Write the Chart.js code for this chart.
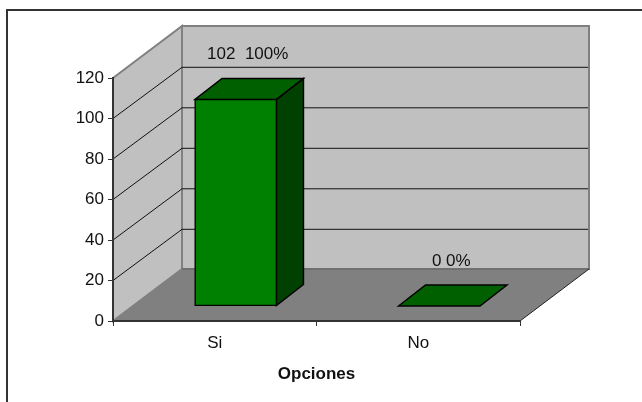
<!DOCTYPE html>
<html>
<head>
<meta charset="utf-8">
<title>Opciones</title>
<style>
  html, body { margin: 0; padding: 0; background: #fff; }
  canvas { display: block; }
</style>
<script src="https://cdn.jsdelivr.net/npm/chart.js@4"></script>
</head>
<body>
<canvas id="chart" width="642" height="402"></canvas>
<script>
// Survey answers
const categories = ['Si', 'No'];
const counts = [102, 0];
const percents = ['100%', '0%'];
const separators = ['  ', ' '];
const yTicks = [0, 20, 40, 60, 80, 100, 120];

// Perspective of the box: wall depth, and how far bars stand inside it
const WALL_DX = 69, WALL_DY = -52, GRID_DY = -51.2;
const BAR_SHIFT_X = 21, BAR_SHIFT_Y = -15;
const BAR_DX = 27, BAR_DY = -21;

const FONT = '"Liberation Sans", Arial, sans-serif';
const INK = '#111';

function poly(ctx, pts, fill, stroke, lw) {
  ctx.beginPath();
  pts.forEach((p, i) => i ? ctx.lineTo(p[0], p[1]) : ctx.moveTo(p[0], p[1]));
  ctx.closePath();
  if (fill) { ctx.fillStyle = fill; ctx.fill(); }
  if (stroke) { ctx.strokeStyle = stroke; ctx.lineWidth = lw; ctx.lineJoin = 'miter'; ctx.stroke(); }
}

const box3d = {
  id: 'box3d',
  beforeDraw(chart) {
    const { ctx, chartArea: a, scales: { y } } = chart;
    const top = y.getPixelForValue(yTicks[yTicks.length - 1]);
    const bot = y.getPixelForValue(0);
    ctx.save();
    ctx.fillStyle = '#fff';
    ctx.fillRect(0, 0, chart.width, chart.height);

    // outer frame, open to the right and bottom edges of the page
    ctx.strokeStyle = '#333';
    ctx.lineWidth = 2;
    ctx.beginPath();
    ctx.moveTo(7, chart.height);
    ctx.lineTo(7, 10);
    ctx.lineTo(chart.width, 10);
    ctx.stroke();

    // side wall and back wall
    poly(ctx, [[a.left, top], [a.left + WALL_DX, top + WALL_DY], [a.left + WALL_DX, bot + WALL_DY], [a.left, bot]], '#c0c0c0', '#808080', 2);
    poly(ctx, [[a.left + WALL_DX, top + WALL_DY], [a.right + WALL_DX, top + WALL_DY], [a.right + WALL_DX, bot + WALL_DY], [a.left + WALL_DX, bot + WALL_DY]], '#c0c0c0', '#808080', 2);

    // floor, with a darker seam where it meets the back wall
    poly(ctx, [[a.left, bot], [a.left + WALL_DX, bot + WALL_DY], [a.right + WALL_DX, bot + WALL_DY], [a.right, bot]], '#808080');
    ctx.strokeStyle = '#707070';
    ctx.lineWidth = 2;
    ctx.beginPath();
    ctx.moveTo(a.left + WALL_DX, bot + WALL_DY);
    ctx.lineTo(a.right + WALL_DX, bot + WALL_DY);
    ctx.stroke();

    // right edge of the floor
    ctx.strokeStyle = '#222';
    ctx.lineWidth = 1;
    ctx.beginPath();
    ctx.moveTo(a.right, bot);
    ctx.lineTo(a.right + WALL_DX, bot + WALL_DY);
    ctx.stroke();

    // gridlines run along the side wall, then across the back wall
    ctx.strokeStyle = '#111';
    ctx.lineWidth = 1;
    yTicks.slice(1, -1).forEach(v => {
      const py = y.getPixelForValue(v);
      ctx.beginPath();
      ctx.moveTo(a.left, py);
      ctx.lineTo(a.left + WALL_DX, py + GRID_DY);
      ctx.lineTo(a.right + WALL_DX - 1, py + GRID_DY);
      ctx.stroke();
    });
    ctx.restore();
  },
  beforeDatasetDraw(chart, args) {
    const { ctx } = chart;
    ctx.save();
    ctx.translate(BAR_SHIFT_X, BAR_SHIFT_Y);
    chart.getDatasetMeta(args.index).data.forEach(bar => {
      const l = bar.x - bar.width / 2, r = bar.x + bar.width / 2;
      const t = Math.min(bar.y, bar.base), b = Math.max(bar.y, bar.base);
      if (b > t) {
        poly(ctx, [[r, t], [r + BAR_DX, t + BAR_DY], [r + BAR_DX, b + BAR_DY], [r, b]], '#004000', '#000', 1.5);
      }
      poly(ctx, [[l, t], [l + BAR_DX, t + BAR_DY], [r + BAR_DX, t + BAR_DY], [r, t]], '#006000', '#000', 1.5);
    });
  },
  afterDatasetDraw(chart, args) {
    const { ctx } = chart;
    ctx.restore();
    ctx.save();
    ctx.font = '17px ' + FONT;
    ctx.fillStyle = INK;
    ctx.textAlign = 'center';
    ctx.textBaseline = 'middle';
    chart.getDatasetMeta(args.index).data.forEach((bar, i) => {
      const text = counts[i] + separators[i] + percents[i];
      ctx.fillText(text, bar.x + BAR_SHIFT_X + 12, bar.y + BAR_SHIFT_Y - 45);
    });
    ctx.restore();
  }
};

new Chart(document.getElementById('chart'), {
  type: 'bar',
  data: {
    labels: categories,
    datasets: [{
      data: counts,
      backgroundColor: '#008000',
      borderColor: '#000',
      borderWidth: 1.5,
      borderSkipped: false,
      inflateAmount: 0.75,
      categoryPercentage: 1,
      barPercentage: 0.4
    }]
  },
  plugins: [box3d],
  options: {
    responsive: false,
    animation: false,
    layout: { padding: { left: 0, right: 122, top: 78, bottom: 0 } },
    plugins: { legend: { display: false }, tooltip: { enabled: false } },
    scales: {
      y: {
        min: 0,
        max: 120,
        afterBuildTicks: s => { s.ticks = yTicks.map(value => ({ value })); },
        afterFit: s => { s.width = 113; },
        grid: { drawOnChartArea: false, drawTicks: true, tickLength: 5, tickColor: '#333', tickWidth: 1 },
        border: { color: '#333', width: 2 },
        ticks: { font: { family: FONT, size: 17 }, color: INK, padding: 4 }
      },
      x: {
        afterFit: s => { s.height = 81; },
        grid: { offset: true, drawOnChartArea: false, drawTicks: true, tickLength: 5, tickColor: '#333', tickWidth: 1 },
        border: { color: '#333', width: 2 },
        ticks: { font: { family: FONT, size: 17 }, color: INK, padding: 7, maxRotation: 0 },
        title: {
          display: true,
          text: 'Opciones',
          font: { family: FONT, size: 17, weight: 'bold' },
          color: '#111',
          padding: { top: 0, bottom: 17 }
        }
      }
    }
  }
});
</script>
</body>
</html>
